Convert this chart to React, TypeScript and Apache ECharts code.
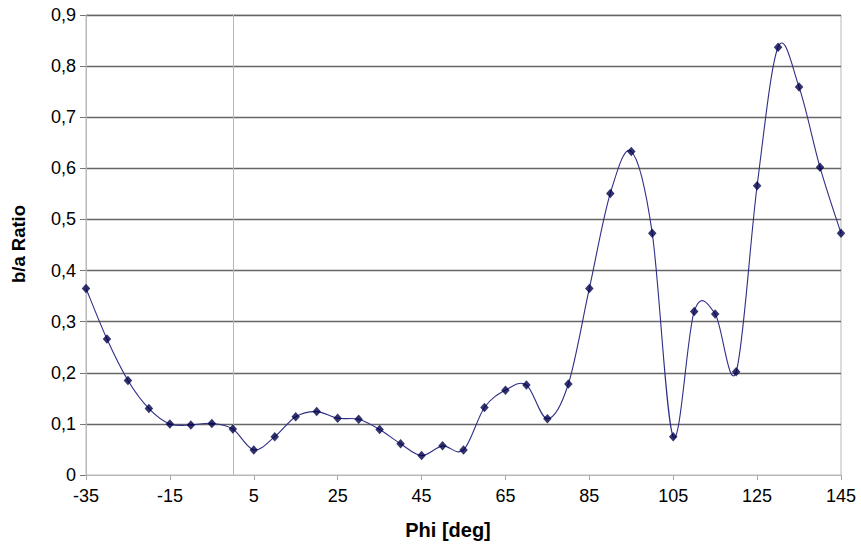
import React, { useEffect, useRef } from "react";
import * as echarts from "echarts";

const phi = [-35, -30, -25, -20, -15, -10, -5, 0, 5, 10, 15, 20, 25, 30, 35, 40, 45, 50, 55, 60, 65, 70, 75, 80, 85, 90, 95, 100, 105, 110, 115, 120, 125, 130, 135, 140, 145];
const ratio = [0.365, 0.266, 0.185, 0.13, 0.1, 0.098, 0.101, 0.09, 0.049, 0.075, 0.114, 0.124, 0.111, 0.109, 0.089, 0.061, 0.038, 0.057, 0.049, 0.132, 0.166, 0.176, 0.11, 0.178, 0.365, 0.551, 0.633, 0.473, 0.075, 0.32, 0.315, 0.202, 0.566, 0.837, 0.759, 0.602, 0.473];
const xTicks = [-35, -15, 5, 25, 45, 65, 85, 105, 125, 145];
const xTitle = "Phi [deg]";
const yTitle = "b/a Ratio";

const FONT = "'Liberation Sans', Arial, sans-serif";

export default function App() {
  const ref = useRef<HTMLDivElement>(null);
  useEffect(() => {
    if (!ref.current) return;
    const chart = echarts.init(ref.current, undefined, { renderer: "svg" });
    const points = phi.map((x, i) => [x, ratio[i]]);
    const n = phi.length;
    chart.setOption({
      animation: false,
      backgroundColor: "#ffffff",
      grid: {
        left: 86,
        right: 20,
        top: 15,
        bottom: 77,
        show: true,
        borderColor: "#b8b8b8",
        borderWidth: 1,
      },
      xAxis: {
        type: "value",
        min: -35,
        max: 145,
        interval: 20,
        axisLine: { show: true, onZero: false, lineStyle: { color: "#b8b8b8", width: 1 } },
        axisTick: { show: true, length: 5, customValues: xTicks, lineStyle: { color: "#a8a8a8" } },
        axisLabel: {
          customValues: xTicks,
          margin: 12,
          fontSize: 18,
          color: "#000",
          fontFamily: FONT,
        },
        splitLine: { show: false },
        z: 3,
      },
      yAxis: {
        type: "value",
        min: 0,
        max: 0.9,
        interval: 0.1,
        axisLine: { show: true, onZero: false, lineStyle: { color: "#b8b8b8", width: 1 } },
        axisTick: { show: true, length: 6, lineStyle: { color: "#777777" } },
        axisLabel: {
          margin: 10,
          fontSize: 18,
          color: "#000",
          fontFamily: FONT,
          formatter: (v: number) => (v === 0 ? "0" : v.toFixed(1).replace(".", ",")),
        },
        splitLine: { show: true, showMinLine: false, lineStyle: { color: "#666666", width: 1.4 } },
      },
      graphic: [
        {
          type: "text",
          x: 448,
          y: 530,
          style: {
            text: xTitle,
            fontSize: 20,
            fontWeight: "bold",
            fontFamily: FONT,
            fill: "#000",
            textAlign: "center",
            textVerticalAlign: "middle",
          },
        },
        {
          type: "text",
          x: 18,
          y: 244,
          rotation: Math.PI / 2,
          style: {
            text: yTitle,
            fontSize: 18.5,
            fontWeight: "bold",
            fontFamily: FONT,
            fill: "#000",
            textAlign: "center",
            textVerticalAlign: "middle",
          },
        },
      ],
      series: [
        {
          type: "custom",
          name: "curve",
          data: points,
          encode: { x: 0, y: 1 },
          z: 2,
          silent: true,
          renderItem: (params: any, api: any) => {
            const i = params.dataIndex;
            if (i >= n - 1) return null;
            const P = (j: number) => {
              const k = Math.max(0, Math.min(n - 1, j));
              return api.coord([phi[k], ratio[k]]);
            };
            const p0 = P(i - 1);
            const p1 = P(i);
            const p2 = P(i + 1);
            const p3 = P(i + 2);
            const t = 1 / 6;
            return {
              type: "bezierCurve",
              shape: {
                x1: p1[0],
                y1: p1[1],
                x2: p2[0],
                y2: p2[1],
                cpx1: p1[0] + (p2[0] - p0[0]) * t,
                cpy1: p1[1] + (p2[1] - p0[1]) * t,
                cpx2: p2[0] - (p3[0] - p1[0]) * t,
                cpy2: p2[1] - (p3[1] - p1[1]) * t,
              },
              style: { stroke: "#2e2e86", lineWidth: 1.1, fill: "none" },
            };
          },
        },
        {
          type: "scatter",
          name: "b/a",
          data: points,
          symbol: "diamond",
          symbolSize: [8.5, 9.5],
          itemStyle: { color: "#000048" },
          z: 4,
          markLine: {
            silent: true,
            symbol: "none",
            label: { show: false },
            lineStyle: { color: "#b8b8b8", width: 1, type: "solid" },
            data: [{ xAxis: 0 }],
            z: 1,
          },
        },
      ],
    });
    return () => chart.dispose();
  }, []);
  return <div ref={ref} style={{ position: "fixed", left: 0, top: 0, width: 861, height: 552 }} />;
}
